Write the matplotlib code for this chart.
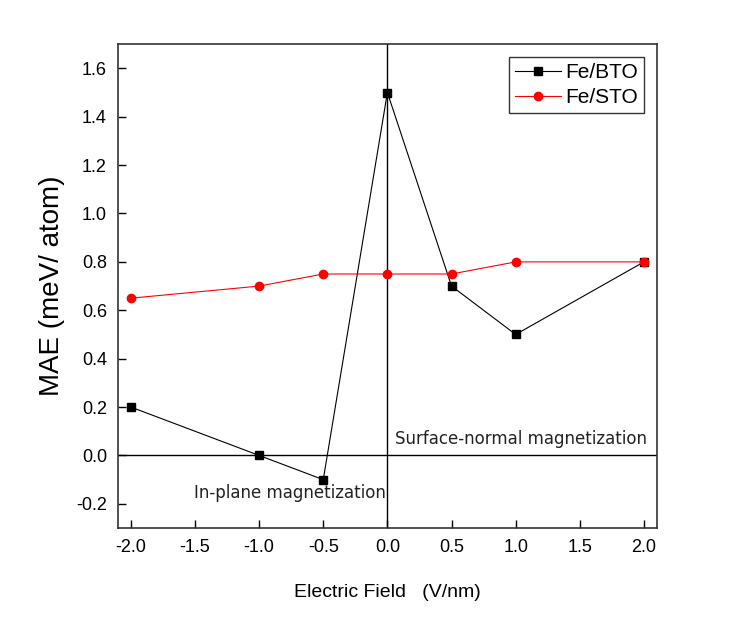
import matplotlib
matplotlib.use("Agg")
import matplotlib.pyplot as plt

field = [-2.0, -1.0, -0.5, 0.0, 0.5, 1.0, 2.0]
mae_bto = [0.2, 0.0, -0.1, 1.5, 0.7, 0.5, 0.8]
mae_sto = [0.65, 0.70, 0.75, 0.75, 0.75, 0.80, 0.80]
xticks = [-2.0, -1.5, -1.0, -0.5, 0.0, 0.5, 1.0, 1.5, 2.0]
yticks = [-0.2, 0.0, 0.2, 0.4, 0.6, 0.8, 1.0, 1.2, 1.4, 1.6]

plt.rcParams['font.family'] = ['Liberation Sans', 'DejaVu Sans']
fig = plt.figure(figsize=(7.33, 6.26), dpi=100)
ax = fig.add_axes([0.161, 0.1565, 0.735, 0.773])

ax.axhline(0, color='black', lw=1.0, zorder=1)
ax.axvline(0, color='black', lw=1.0, zorder=1)
ax.plot(field, mae_bto, color='black', lw=0.8, marker='s', ms=6, label='Fe/BTO', zorder=3)
ax.plot(field, mae_sto, color='red', lw=0.8, marker='o', ms=6, label='Fe/STO', zorder=3)

ax.set_xlim(-2.1, 2.1)
ax.set_ylim(-0.3, 1.7)
ax.set_xticks(xticks)
ax.set_xticklabels([f"{v:.1f}" for v in xticks])
ax.set_yticks(yticks)
ax.set_yticklabels([f"{v:.1f}" for v in yticks])
ax.tick_params(direction='in', length=6, width=1, labelsize=13, pad=8)
for s in ax.spines.values():
    s.set_linewidth(1.2)
    s.set_color('#333333')

ax.set_ylabel('MAE (meV/ atom)', fontsize=20, labelpad=8)
ax.set_xlabel('Electric Field   (V/nm)', fontsize=14, labelpad=20)

ax.text(2.02, 0.07, 'Surface-normal magnetization', ha='right', va='center',
        fontsize=12, color='#222222', family=['DejaVu Sans'])
ax.text(-0.01, -0.157, 'In-plane magnetization', ha='right', va='center',
        fontsize=12, color='#222222', family=['DejaVu Sans'])

leg = ax.legend(loc='upper right', fontsize=15, frameon=True, fancybox=False,
                edgecolor='black', handlelength=2.2, borderaxespad=0.6,
                borderpad=0.3, labelspacing=0.3, handletextpad=0.2)
leg.get_frame().set_linewidth(1.0)

fig.savefig('out.png', dpi=100)
